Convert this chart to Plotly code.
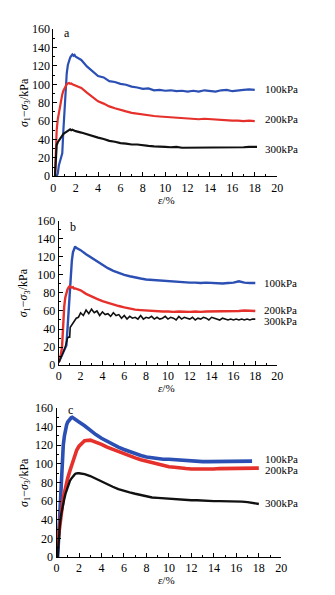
import plotly.graph_objects as go

# Axial strain (%) sampled along the softening branch, shared by every curve
TAIL_STRAIN = [2.0, 2.5, 3.0, 3.5, 4.0, 4.5, 5.0, 5.5, 6.0, 6.5, 7.0, 7.5, 8.0, 8.5,
               9.0, 9.5, 10.0, 10.5, 11.0, 11.5, 12.0, 12.5, 13.0, 13.5, 14.0, 14.5,
               15.0, 15.5, 16.0, 16.5, 17.0, 17.5, 18.0]

# ---- panel a ----
A100_RISE_X = [0.3, 0.4, 0.5, 0.6, 0.7, 0.75, 0.8, 0.9, 1.0, 1.1, 1.2, 1.3, 1.4, 1.5, 1.6, 1.7, 1.8, 1.9]
A100_RISE_Y = [0, 3, 12, 17, 20, 22, 25, 50, 75, 97, 112, 121, 126, 129, 131, 132.5, 131, 132]
A100_TAIL = [130, 126.5, 119.5, 114.5, 109, 107.5, 103.5, 102.5, 100.5, 99.5, 97.5, 96.5, 95, 95.5,
             93.5, 94, 93, 93.5, 92.5, 93, 92, 93, 92, 93.5, 92.5, 92, 93.5, 94, 92.5, 93.5, 94, 94.5, 94]

A200_RISE_X = [0.15, 0.2, 0.25, 0.3, 0.4, 0.5, 0.6, 0.7, 0.8, 0.9, 1.0, 1.1, 1.2, 1.3, 1.4, 1.5, 1.6, 1.7, 1.8, 1.9]
A200_RISE_Y = [0, 20, 38, 50, 62, 70, 76, 83, 89, 93, 96, 99, 100, 101, 101.5, 100.5, 101, 100, 99.5, 99]
A200_TAIL = [98.5, 96, 91, 86, 81.5, 79, 76, 74, 72, 70.5, 69, 68, 67, 66.5, 65.5, 65, 64.5, 64, 63.5,
             63, 63, 62.5, 62, 62.5, 62, 61.5, 61, 61, 60.5, 60.5, 60, 60.5, 60]

A300_RISE_X = [0.15, 0.2, 0.25, 0.3, 0.4, 0.5, 0.6, 0.7, 0.8, 0.9, 1.0, 1.1, 1.2, 1.3, 1.4, 1.5, 1.6, 1.7, 1.8, 1.9]
A300_RISE_Y = [0, 15, 30, 34, 37, 39, 41, 43, 45, 46, 47, 48, 49, 50, 50.5, 51, 50, 50.5, 50, 49.5]
A300_TAIL = [49, 47.5, 45.5, 43.5, 42, 40.5, 38.5, 37.5, 36, 35.5, 34.5, 34.5, 33.5, 33, 32.5, 32.5, 32,
             31.5, 32, 31, 31, 31.5, 31, 31, 31, 31.5, 31, 31, 31.5, 31, 31.5, 32, 32]

# ---- panel b ----
B100_RISE_X = [0.0, 0.2, 0.4, 0.6, 0.7, 0.8, 0.9, 1.0, 1.1, 1.2, 1.3, 1.4, 1.5, 1.6, 1.7, 1.8, 1.9]
B100_RISE_Y = [3, 8, 14, 19, 22, 40, 60, 80, 100, 116, 125, 130, 131.5, 130, 129.5, 128.5, 128]
B100_TAIL = [127.5, 123, 119, 115, 111, 107.5, 104.5, 102, 100, 98.5, 97, 96, 95, 94.5, 94.5, 93.5,
             93, 92.5, 92, 92, 91.5, 91.5, 91, 91.5, 91, 91, 90.5, 91, 91.5, 93, 91.5, 91, 91]

B200_RISE_X = [0.0, 0.2, 0.3, 0.4, 0.5, 0.6, 0.7, 0.8, 0.9, 1.0, 1.1, 1.2, 1.3, 1.4, 1.5, 1.6, 1.7, 1.8, 1.9]
B200_RISE_Y = [3, 12, 20, 45, 65, 75, 80, 84, 86, 87.5, 86.5, 86, 86.5, 85, 85, 84.5, 84, 83.5, 83.5]
B200_TAIL = [83, 79, 76, 73.5, 71, 69, 67, 65.5, 64, 62.5, 61.5, 61, 60.5, 60, 59.5, 59.5, 59.5, 59,
             59.5, 59, 59, 59.5, 59, 59.5, 59.5, 59.5, 60, 59.5, 60, 60, 60.5, 60, 60]

B300_RISE_X = [0.0, 0.2, 0.4, 0.6, 0.7, 0.8, 0.9, 1.0, 1.05, 1.2, 1.4, 1.6, 1.8, 1.9]
B300_RISE_Y = [3, 8, 14, 20, 25, 30, 31, 31, 42, 45, 48, 52, 53, 55]
B300_TAIL_X = [2.0, 2.25, 2.5, 2.75, 3.0, 3.25, 3.5, 3.75, 4.0, 4.25, 4.5, 4.75, 5.0, 5.25, 5.5, 5.75,
               6.0, 6.25, 6.5, 6.75, 7.0, 7.25, 7.5, 7.75, 8.0, 8.25, 8.5, 8.75, 9.0, 9.25, 9.5, 9.75,
               10.0, 10.25, 10.5, 10.75, 11.0, 11.25, 11.5, 11.75, 12.0, 12.25, 12.5, 12.75, 13.0,
               13.25, 13.5, 13.75, 14.0, 14.25, 14.5, 14.75, 15.0, 15.25, 15.5, 15.75, 16.0, 16.25,
               16.5, 16.75, 17.0, 17.25, 17.5, 17.75, 18.0]
B300_TAIL = [58, 55, 61, 57, 62, 58, 60, 55, 59, 56, 57, 54, 58, 55, 56, 52, 55, 51, 54, 52, 53, 51,
             55, 51, 53, 52, 54, 51, 53, 51, 52, 54, 51, 53, 52, 50, 54, 51, 53, 52, 51, 53, 50, 52,
             51, 53, 52, 50, 53, 52, 51, 50, 52, 51, 50, 51, 50, 51, 50, 51, 50, 51, 50, 51, 51]

# ---- panel c ----
C100_RISE_X = [0.1, 0.2, 0.3, 0.4, 0.5, 0.6, 0.7, 0.8, 0.9, 1.0, 1.1, 1.2, 1.3, 1.4, 1.5, 1.6, 1.7, 1.8, 1.9]
C100_RISE_Y = [0, 25, 55, 85, 106, 120, 130, 137, 142, 145, 147, 148.5, 149.5, 150, 149, 148.5, 147, 146.5, 145.5]
C100_TAIL = [145, 141, 136, 131.5, 127.5, 124, 121, 118, 115.5, 113, 111, 109, 107.5, 106.5, 105.5,
             105, 105, 104.5, 104, 103.5, 103, 102.5, 102.5, 102.5, 102.5, 102.5, 102.5, 103, 103,
             103, 103]
C100_END_X = [17.4]
C100_END_Y = [103]

C200_RISE_X = [0.0, 0.1, 0.2, 0.3, 0.4, 0.5, 0.6, 0.7, 0.8, 0.9, 1.0, 1.2, 1.4, 1.6, 1.8]
C200_RISE_Y = [5, 15, 28, 40, 50, 57, 63, 69, 75, 80, 85, 93, 100, 108, 115]
C200_TAIL = [119, 125, 125.5, 123.5, 121, 118, 115.5, 113, 111, 108.5, 106.5, 104.5, 103, 101, 99.5,
             98, 97, 96.5, 95.5, 95, 94.5, 94.5, 94, 94.5, 94.5, 95, 95, 95.5, 95.5, 95.5, 95.5, 95.5, 95.5]

C300_RISE_X = [0.1, 0.2, 0.3, 0.4, 0.5, 0.6, 0.7, 0.8, 0.9, 1.0, 1.1, 1.2, 1.3, 1.4, 1.5, 1.6, 1.7, 1.8, 1.9]
C300_RISE_Y = [0, 20, 35, 45, 52, 58, 63, 68, 72, 76, 79, 82, 84, 86, 87.5, 88.5, 89.5, 90, 90]
C300_TAIL = [90, 89, 87, 84, 81, 78, 75.5, 73, 71, 69.5, 68, 66.5, 65, 64, 63.5, 63, 62.5, 62, 62,
             61.5, 61, 61, 60.5, 60.5, 60, 60, 60, 59.5, 60, 59.5, 59, 58, 57]

PRESSURES = ["100kPa", "200kPa", "300kPa"]
PANEL_LETTERS = ["a", "b", "c"]

BLUE = "#2b4fb3"
RED = "#e5302b"
BLACK = "#111111"
FONT = "Liberation Serif"

W, H = 335, 595


def px_x(p):
    return p / W


def px_y(p):
    return 1 - p / H


# plot-area boxes in pixels: (left, right, top, bottom)
BOXES = [(51.7, 281.7, 22.7, 173.3),
         (57.3, 281.7, 219.0, 366.7),
         (55.0, 286.0, 410.7, 563.3)]

panels = [
    [(A100_RISE_X + TAIL_STRAIN[:len(A100_TAIL)], A100_RISE_Y + A100_TAIL, BLUE, 2.2),
     (A200_RISE_X + TAIL_STRAIN[:len(A200_TAIL)], A200_RISE_Y + A200_TAIL, RED, 2.2),
     (A300_RISE_X + TAIL_STRAIN[:len(A300_TAIL)] + [18.2], A300_RISE_Y + A300_TAIL + [32], BLACK, 2.2)],
    [(B100_RISE_X + TAIL_STRAIN[:len(B100_TAIL)], B100_RISE_Y + B100_TAIL, BLUE, 2.4),
     (B200_RISE_X + TAIL_STRAIN[:len(B200_TAIL)], B200_RISE_Y + B200_TAIL, RED, 2.4),
     (B300_RISE_X + B300_TAIL_X, B300_RISE_Y + B300_TAIL, BLACK, 1.6)],
    [(C100_RISE_X + TAIL_STRAIN[:len(C100_TAIL)] + C100_END_X, C100_RISE_Y + C100_TAIL + C100_END_Y, BLUE, 3.6),
     (C200_RISE_X + TAIL_STRAIN[:len(C200_TAIL)], C200_RISE_Y + C200_TAIL, RED, 3.6),
     (C300_RISE_X + TAIL_STRAIN[:len(C300_TAIL)], C300_RISE_Y + C300_TAIL, BLACK, 2.4)],
]

# curve label anchors (strain, stress) for each panel
LABEL_POS = [
    [(18.7, 94.9), (18.7, 62.7), (18.7, 30.0)],
    [(18.65, 91.4), (18.65, 61.5), (18.65, 49.0)],
    [(18.4, 105.8), (18.4, 93.0), (18.4, 57.6)],
]
LETTER_POS = [(1.2, 155.5), (1.28, 153.5), (1.2, 158.0)]
XTITLE_Y = [197.5, 390.0, 587.0]

fig = go.Figure()
annotations = []
layout_axes = {}

for i, (series, box) in enumerate(zip(panels, BOXES)):
    n = "" if i == 0 else str(i + 1)
    xa, ya = "x" + n, "y" + n
    left, right, top, bottom = box
    for xs, ys, color, width in series:
        fig.add_trace(go.Scatter(x=xs, y=ys, mode="lines", xaxis=xa, yaxis=ya,
                                 line=dict(color=color, width=width), showlegend=False,
                                 hoverinfo="skip"))
    common = dict(showline=True, linecolor="black", linewidth=1, showgrid=False, zeroline=False,
                  ticks="inside", ticklen=4, tickcolor="black", tickwidth=1,
                  tickfont=dict(family=FONT, size=12, color="black"))
    layout_axes["xaxis" + n] = dict(common, domain=[px_x(left), px_x(right)], range=[0, 20],
                                    dtick=2, tick0=0, anchor=ya,
                                    minor=dict(ticks="inside", ticklen=2, tickcolor="black", dtick=1))
    layout_axes["yaxis" + n] = dict(common, domain=[px_y(bottom), px_y(top)], range=[0, 160],
                                    dtick=20, tick0=0, anchor=xa,
                                    minor=dict(ticks="inside", ticklen=2, tickcolor="black", dtick=10))
    for label, (lx, ly) in zip(PRESSURES, LABEL_POS[i]):
        annotations.append(dict(x=lx, y=ly, xref=xa, yref=ya, text=label, showarrow=False,
                                xanchor="left", yanchor="middle",
                                font=dict(family=FONT, size=11, color="black")))
    lx, ly = LETTER_POS[i]
    annotations.append(dict(x=lx, y=ly, xref=xa, yref=ya, text=PANEL_LETTERS[i], showarrow=False,
                            xanchor="center", yanchor="middle",
                            font=dict(family=FONT, size=12, color="black")))
    annotations.append(dict(x=px_x(22), y=px_y((top + bottom) / 2), xref="paper", yref="paper",
                            text="<i>σ</i><sub>1</sub>−<i>σ</i><sub>3</sub>/kPa", textangle=-90,
                            showarrow=False, xanchor="center", yanchor="middle",
                            font=dict(family=FONT, size=12, color="black")))
    annotations.append(dict(x=px_x(168), y=px_y(XTITLE_Y[i]), xref="paper", yref="paper",
                            text="<i>ε</i>/%", showarrow=False, xanchor="center", yanchor="middle",
                            font=dict(family=FONT, size=11, color="black")))

fig.update_layout(width=W, height=H, margin=dict(l=0, r=0, t=0, b=0),
                  paper_bgcolor="white", plot_bgcolor="white",
                  annotations=annotations, **layout_axes)

fig.write_html("out.html")
